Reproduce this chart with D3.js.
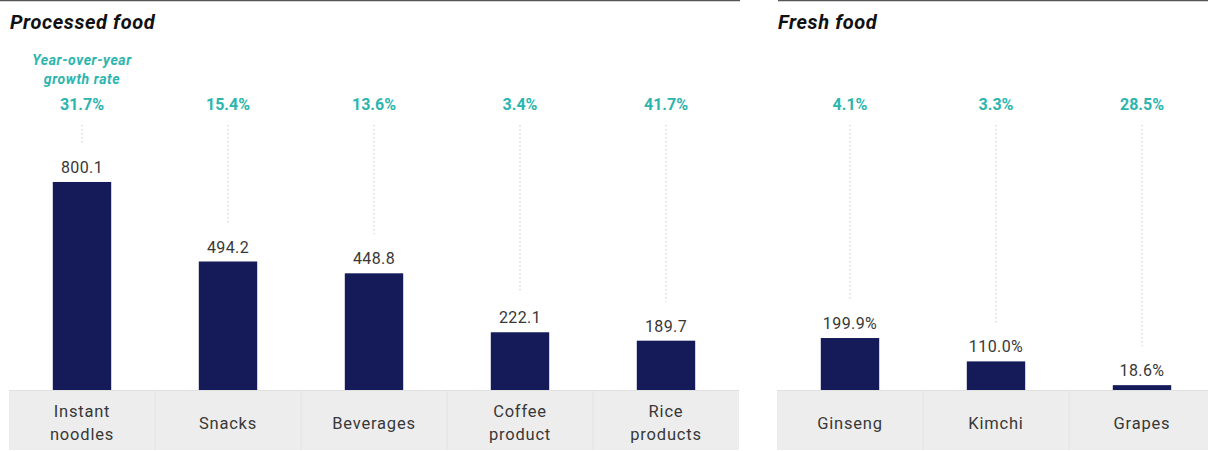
<!DOCTYPE html>
<html><head><meta charset="utf-8">
<script src="https://cdn.jsdelivr.net/npm/d3@7"></script>
<style>body{margin:0;background:#fff}svg{display:block}</style>
</head><body>
<script>
const processedCats = [["Instant","noodles"],["Snacks"],["Beverages"],["Coffee","product"],["Rice","products"]];
const processedValues = [800.1, 494.2, 448.8, 222.1, 189.7];
const processedLabels = ["800.1","494.2","448.8","222.1","189.7"];
const processedGrowth = ["31.7%","15.4%","13.6%","3.4%","41.7%"];
const freshCats = [["Ginseng"],["Kimchi"],["Grapes"]];
const freshValues = [199.9, 110.0, 18.6];
const freshLabels = ["199.9%","110.0%","18.6%"];
const freshGrowth = ["4.1%","3.3%","28.5%"];

const W = 1208, H = 451;
const svg = d3.select("body").append("svg").attr("width", W).attr("height", H);
const font = "Roboto, 'DejaVu Sans', sans-serif";
const teal = "#2cb5ae", navy = "#141b58", txt = "#383838";
const y = d3.scaleLinear().domain([0, 1000]).range([390, 130]);

function panel(cats, values, labels, growth, x0, x1, lineX0, lineX1, title, showNote) {
  const names = cats.map(c => c.join(" "));
  const x = d3.scaleBand().domain(names).range([x0, x1]).paddingInner(0).paddingOuter(0);
  const g = svg.append("g");
  g.append("line").attr("x1", lineX0).attr("x2", lineX1).attr("y1", 0.5).attr("y2", 0.5)
    .attr("stroke", "#555").attr("stroke-width", 1.5);
  g.append("text").attr("x", lineX0 + (showNote ? 10 : 0)).attr("y", 29).text(title)
    .attr("font-family", font).attr("font-weight", 700).attr("font-style", "italic")
    .attr("font-size", 20).attr("letter-spacing", 0.6).attr("fill", "#111");
  g.append("rect").attr("x", x0).attr("y", 390).attr("width", x1 - x0).attr("height", 60).attr("fill", "#ededed");
  g.append("line").attr("x1", x0).attr("x2", x1).attr("y1", 390.5).attr("y2", 390.5).attr("stroke", "#e0e0e0");
  names.slice(1).forEach(n => {
    g.append("line").attr("x1", x(n)).attr("x2", x(n)).attr("y1", 391).attr("y2", 450).attr("stroke", "#e2e2e2");
  });
  const bw = x.bandwidth() * 0.4;
  names.forEach((n, i) => {
    const cx = x(n) + x.bandwidth() / 2;
    const top = y(values[i]);
    g.append("rect").attr("x", cx - bw / 2).attr("y", top).attr("width", bw).attr("height", y(0) - top).attr("fill", navy);
    g.append("text").attr("x", cx).attr("y", top - 9).attr("text-anchor", "middle").text(labels[i])
      .attr("font-family", font).attr("font-size", 16).attr("letter-spacing", 0.4).attr("fill", txt);
    g.append("line").attr("x1", cx).attr("x2", cx).attr("y1", 125).attr("y2", top - 39)
      .attr("stroke", "#c8c8c8").attr("stroke-dasharray", "1.5,2.5").attr("stroke-width", 1);
    g.append("text").attr("x", cx).attr("y", 110).attr("text-anchor", "middle").text(growth[i])
      .attr("font-family", font).attr("font-weight", 700).attr("font-size", 16).attr("fill", teal);
    const lines = cats[i];
    const t = g.append("text").attr("text-anchor", "middle").attr("font-family", font)
      .attr("font-size", 16.5).attr("letter-spacing", 0.8).attr("fill", txt);
    const startY = lines.length === 2 ? 417 : 429;
    lines.forEach((l, j) => t.append("tspan").attr("x", cx).attr("y", startY + j * 23).text(l));
    if (showNote && i === 0) {
      const nt = g.append("text").attr("text-anchor", "middle").attr("font-family", font)
        .attr("font-weight", 700).attr("font-style", "italic").attr("font-size", 14)
        .attr("letter-spacing", 0.6).attr("fill", teal);
      nt.append("tspan").attr("x", cx).attr("y", 65).text("Year-over-year");
      nt.append("tspan").attr("x", cx).attr("y", 84).text("growth rate");
    }
  });
}

panel(processedCats, processedValues, processedLabels, processedGrowth, 9, 739, 0, 740, "Processed food", true);
panel(freshCats, freshValues, freshLabels, freshGrowth, 777, 1215, 778, 1208, "Fresh food", false);
</script>
</body></html>
